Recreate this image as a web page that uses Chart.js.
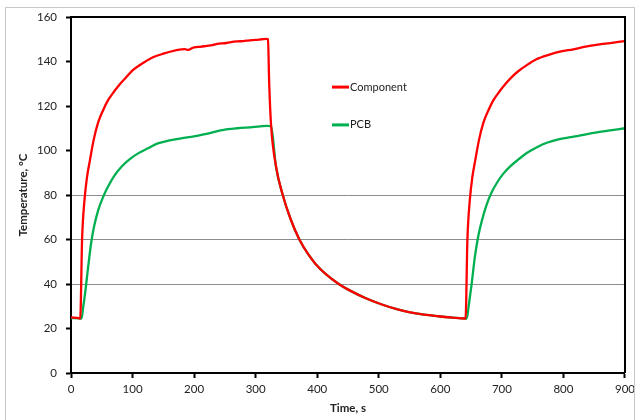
<!DOCTYPE html>
<html>
<head>
<meta charset="utf-8">
<script src="https://cdn.jsdelivr.net/npm/chart.js@4/dist/chart.umd.min.js"></script>
<style>
  html, body { margin: 0; padding: 0; background: #fff; }
  #wrap { position: relative; width: 639px; height: 420px; }
  #frame { position: absolute; left: 5px; top: 7px; width: 630px; height: 420px; border: 1px solid #c8c8c8; box-sizing: border-box; }
</style>
</head>
<body>
<div id="wrap">
  <div id="frame"></div>
  <canvas id="chart" width="639" height="420"></canvas>
</div>
<script>
// time (s) and temperature (°C)
const compTime = [0, 14, 15, 18, 22, 26, 31, 37, 44, 52, 60, 70, 80, 90, 100, 115, 130, 150, 170, 185, 190, 200, 210, 220, 230, 240, 250, 260, 270, 280, 290, 300, 310, 318, 320, 322, 325, 333, 344, 357, 371, 385, 398, 415, 435, 455, 479, 505, 532, 560, 597, 620, 640, 641, 644, 648, 652, 657, 663, 670, 678, 686, 696, 706, 716, 726, 741, 756, 776, 796, 816, 836, 856, 876, 900];
const compTemp = [25, 24.6, 24.5, 60, 78, 88, 96, 105, 112.5, 118, 122.5, 126.5, 130, 133, 136, 139, 141.5, 143.5, 145, 145.6, 145.2, 146.4, 146.6, 147, 147.4, 148, 148.2, 148.7, 149, 149.2, 149.5, 149.7, 150, 150.2, 150, 130, 111.5, 93, 80, 69, 60, 53.5, 48.8, 44.2, 40, 36.8, 33.6, 30.8, 28.5, 26.8, 25.5, 24.9, 24.5, 24.5, 60, 78, 88, 96, 105, 112.5, 118, 122.5, 126.5, 130, 133, 135.5, 138.5, 141, 143, 144.5, 145.5, 146.7, 147.6, 148.3, 149.2];

const pcbTime = [0, 17, 20, 23, 28, 33, 38, 44, 52, 60, 70, 82, 95, 109, 125, 141, 160, 179, 200, 220, 246, 270, 295, 317, 325, 333, 344, 357, 371, 385, 398, 415, 435, 455, 479, 505, 532, 560, 597, 620, 643, 646, 651, 656, 662, 668, 675, 683, 692, 702, 714, 727, 741, 757, 773, 792, 812, 832, 852, 876, 900];
const pcbTemp = [24.7, 24.5, 30, 36, 48, 59, 66.5, 73, 79, 83.7, 88.5, 92.7, 96, 98.7, 101, 103.2, 104.5, 105.5, 106.3, 107.5, 109.2, 110, 110.5, 111.1, 111, 92.7, 80, 69, 60, 53.5, 48.8, 44.2, 40, 36.8, 33.6, 30.8, 28.5, 26.8, 25.5, 24.9, 24.5, 30, 40.3, 52, 62, 69, 75.5, 81, 85.5, 89.5, 93, 96, 99, 101.5, 103.5, 105, 106, 107, 108, 109, 110];

const xTicks = [0, 100, 200, 300, 400, 500, 600, 700, 800, 900];
const yTicks = [0, 20, 40, 60, 80, 100, 120, 140, 160];
const gridValues = [40, 60, 80];

const seriesNames = ["Component", "PCB"];
const seriesColors = ["#ff0000", "#00b050"];

const toPoints = (xs, ys) => xs.map((x, i) => ({ x: x, y: ys[i] }));

const FONT = "Lato, 'Open Sans', sans-serif";

// box around the plot + legend inside the plot
const boxAndLegend = {
  id: "boxAndLegend",
  afterDatasetsDraw(chart) {
    const c = chart.ctx;
    const a = chart.chartArea;
    const sx = chart.scales.x, sy = chart.scales.y;
    c.save();
    c.strokeStyle = "#000";
    c.lineWidth = 2;
    c.beginPath();
    c.moveTo(a.left, a.top);
    c.lineTo(a.right, a.top);
    c.lineTo(a.right, a.bottom);
    c.stroke();

    const legendY = [128.5, 111.5];
    c.font = "11px " + FONT;
    c.textBaseline = "middle";
    c.fillStyle = "#222";
    chart.data.datasets.forEach((ds, i) => {
      const x0 = sx.getPixelForValue(424);
      const y0 = sy.getPixelForValue(legendY[i]);
      c.strokeStyle = ds.borderColor;
      c.lineWidth = 3;
      c.beginPath();
      c.moveTo(x0, y0);
      c.lineTo(x0 + 17, y0);
      c.stroke();
      c.fillText(ds.label, x0 + 18, y0);
    });
    c.restore();
  }
};

new Chart(document.getElementById("chart"), {
  type: "line",
  data: {
    datasets: [
      {
        label: seriesNames[0],
        data: toPoints(compTime, compTemp),
        borderColor: seriesColors[0],
        borderWidth: 2.3,
        pointRadius: 0,
        cubicInterpolationMode: "monotone",
      },
      {
        label: seriesNames[1],
        data: toPoints(pcbTime, pcbTemp),
        borderColor: seriesColors[1],
        borderWidth: 2.3,
        pointRadius: 0,
        cubicInterpolationMode: "monotone",
      },
    ],
  },
  options: {
    responsive: false,
    animation: false,
    layout: { padding: { left: 0, top: 17, right: 12, bottom: 0 } },
    plugins: {
      legend: { display: false },
      tooltip: { enabled: false },
    },
    scales: {
      x: {
        type: "linear",
        min: 0,
        max: 900,
        afterFit: (s) => { s.height = 47; },
        afterBuildTicks: (s) => { s.ticks = xTicks.map(v => ({ value: v })); },
        border: { color: "#000", width: 2 },
        grid: { drawOnChartArea: false, tickColor: "#000", tickLength: 5, tickWidth: 2 },
        ticks: { color: "#222", font: { family: FONT, size: 11.5 }, padding: 4, maxRotation: 0 },
        title: { display: true, text: "Time, s", color: "#222", font: { family: FONT, size: 11.5, weight: "bold" }, padding: { top: 0, bottom: 5 } },
      },
      y: {
        min: 0,
        max: 160,
        afterFit: (s) => { s.width = 71; },
        afterBuildTicks: (s) => { s.ticks = yTicks.map(v => ({ value: v })); },
        border: { color: "#000", width: 2 },
        grid: {
          color: (ctx) => gridValues.includes(ctx.tick && ctx.tick.value) ? "#8c8c8c" : "rgba(0,0,0,0)",
          lineWidth: 1,
          tickColor: "#000",
          tickLength: 5,
          tickWidth: 2,
        },
        ticks: { color: "#222", font: { family: FONT, size: 11.5 }, padding: 9 },
        title: { display: true, text: "Temperature, °C", color: "#222", font: { family: FONT, size: 11.5, weight: "bold" }, padding: { top: 16, bottom: 0 } },
      },
    },
  },
  plugins: [boxAndLegend],
});
</script>
</body>
</html>
